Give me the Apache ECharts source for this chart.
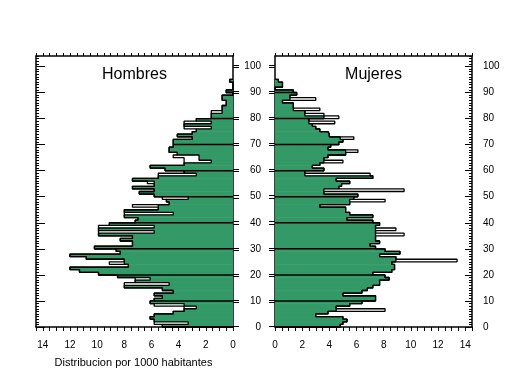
<!DOCTYPE html>
<html>
<head>
<meta charset="utf-8">
<script src="https://cdn.jsdelivr.net/npm/echarts@6/dist/echarts.min.js"></script>
<style>
  html, body { margin: 0; padding: 0; background: #fff; }
  #chart { width: 509px; height: 376px; }
</style>
</head>
<body>
<div id="chart"></div>
<script>
// per 1000 inhabitants, one value per age (0, 1, 2 ...)
// outline = black step line, fill = green area
const menOutline = [
  5.2, 5.8, 5.8, 6.1, 5.8, 4.4, 3.6, 3.6, 5.8, 6.1,
  5.8, 5.2, 5.8, 4.4, 5.2, 8.0, 8.0, 7.2, 7.2, 8.5,
  9.9, 11.3, 12.0, 7.7, 9.1, 8.0, 10.8, 12.0, 8.3, 8.6,
  10.2, 7.4, 7.4, 8.3, 7.4, 9.9, 9.9, 9.9, 9.9, 9.1,
  7.2, 7.0, 8.0, 8.0, 8.0, 5.5, 7.4, 4.7, 4.9, 5.2,
  5.8, 6.9, 5.8, 7.4, 5.8, 6.3, 7.4, 5.5, 5.5, 3.6,
  5.0, 6.1, 3.6, 3.6, 3.6, 4.4, 4.1, 4.7, 4.7, 4.4,
  4.4, 4.4, 3.0, 4.1, 3.0, 2.7, 3.6, 3.6, 3.6, 2.7,
  1.6, 1.6, 1.6, 0.8, 0.8, 0.5, 0.5, 0.8, 0.8, 0,
  0.5, 0, 0, 0, 0.25
];
const menFill = [
  5.2, 3.3, 5.8, 6.1, 5.8, 4.4, 3.6, 2.7, 3.6, 6.1,
  5.8, 5.2, 5.8, 4.4, 5.2, 8.0, 4.7, 7.2, 6.1, 8.5,
  9.9, 11.3, 12.0, 7.7, 8.0, 8.0, 10.8, 12.0, 8.3, 8.6,
  10.2, 7.4, 7.4, 8.3, 7.4, 9.9, 5.8, 9.9, 5.8, 9.1,
  7.2, 7.0, 8.0, 4.4, 8.0, 5.5, 5.5, 4.7, 4.9, 3.3,
  5.8, 6.9, 5.8, 7.4, 5.8, 5.8, 7.4, 5.5, 2.7, 3.6,
  5.0, 6.1, 3.6, 1.6, 2.5, 2.5, 4.1, 4.7, 4.7, 4.4,
  4.4, 4.4, 3.0, 4.1, 3.0, 2.7, 1.6, 3.6, 1.6, 2.7,
  1.6, 1.6, 0.8, 0.8, 0.8, 0.5, 0.5, 0.8, 0.8, 0,
  0.5, 0, 0, 0, 0.25
];
const womenOutline = [
  4.8, 5.0, 5.3, 5.0, 3.0, 3.9, 8.1, 4.5, 5.5, 6.4,
  7.4, 7.4, 5.0, 6.4, 6.8, 7.2, 7.7, 7.7, 8.4, 8.1,
  7.2, 8.6, 8.8, 8.8, 8.6, 13.4, 8.9, 7.7, 9.2, 8.1,
  7.4, 7.0, 7.7, 7.4, 7.4, 9.5, 7.4, 8.9, 7.4, 7.7,
  7.2, 5.3, 7.2, 5.5, 5.2, 5.2, 3.3, 5.5, 8.1, 5.8,
  6.1, 3.6, 9.5, 4.7, 4.9, 5.5, 4.5, 7.2, 7.0, 2.2,
  3.6, 2.75, 3.3, 5.0, 3.6, 3.9, 5.2, 6.1, 3.9, 4.1,
  4.7, 5.0, 5.8, 4.0, 3.9, 3.3, 3.0, 2.75, 4.4, 2.5,
  4.7, 3.6, 2.2, 3.3, 1.35, 1.35, 0.55, 3.0, 1.1, 1.6,
  1.35, 0, 0.55, 0.55, 0.25
];
const womenFill = [
  4.8, 5.0, 5.3, 5.0, 3.0, 3.9, 4.5, 4.5, 5.5, 6.4,
  7.4, 7.4, 5.0, 6.4, 6.8, 7.2, 7.7, 7.7, 8.4, 8.1,
  7.2, 8.6, 8.8, 8.8, 8.6, 8.9, 8.9, 7.7, 9.2, 8.1,
  7.4, 7.0, 7.7, 7.4, 7.4, 7.4, 7.4, 7.4, 7.4, 7.7,
  7.2, 5.3, 7.2, 5.5, 5.2, 5.2, 3.3, 5.5, 5.5, 5.8,
  6.1, 3.6, 3.6, 4.7, 4.9, 5.5, 4.5, 7.2, 2.2, 2.2,
  3.6, 2.75, 3.3, 3.6, 3.6, 3.9, 5.2, 5.2, 3.9, 4.1,
  4.7, 5.0, 4.8, 4.0, 3.9, 3.3, 3.0, 2.75, 2.5, 2.5,
  3.6, 2.2, 2.2, 1.35, 1.35, 1.35, 0.55, 1.1, 1.1, 1.6,
  1.35, 0, 0.55, 0.55, 0.25
];
const xLabels = [0, 2, 4, 6, 8, 10, 12, 14];
const decades = [0, 10, 20, 30, 40, 50, 60, 70, 80, 90, 100];

const green = "#339966";
const font = "Liberation Sans";
const labelStyle = { color: "#000", fontSize: 10, fontFamily: font };
const blackLine = { show: true, onZero: false, lineStyle: { color: "#000", width: 1.5 } };
const noLine = { show: false, onZero: false };
// double ticks ("=") at every decade
const doubleTicks = decades.flatMap((d) => [d - 0.4, d + 0.4]);

const chart = echarts.init(document.getElementById("chart"));

// outline of a step histogram, one step per age
const stepPoints = (vals) => {
  const pts = [[0, 0]];
  vals.forEach((v, i) => {
    pts.push([v, i]);
    pts.push([v, i + 1]);
  });
  pts.push([0, vals.length]);
  return pts;
};

const renderBars = (params, api) => {
  const v = api.value(0);
  const age = api.value(1);
  const p0 = api.coord([0, age]);
  const p1 = api.coord([v, age + 1]);
  const children = [
    {
      type: "rect",
      shape: {
        x: Math.min(p0[0], p1[0]),
        y: p1[1] - 0.3,
        width: Math.abs(p1[0] - p0[0]),
        height: p0[1] - p1[1] + 0.6,
      },
      style: { fill: green },
    },
  ];
  if (age % 10 === 0 && v > 0) {
    children.push({
      type: "line",
      shape: { x1: p0[0], y1: p0[1], x2: p1[0], y2: p0[1] },
      style: { stroke: "#000", lineWidth: 1.5 },
    });
  }
  return { type: "group", children };
};

const xAxisFor = (grid, pos, inverse) => ({
  gridIndex: grid,
  type: "value",
  min: 0,
  max: 14.5,
  interval: 0.5,
  inverse: inverse,
  position: pos,
  axisLine: blackLine,
  axisTick: { show: true, inside: false, length: pos === "bottom" ? 4 : 3, lineStyle: { color: "#000" } },
  axisLabel: {
    show: pos === "bottom",
    ...labelStyle,
    margin: 13,
    formatter: (v) => (xLabels.includes(v) ? String(v) : ""),
  },
  splitLine: { show: false },
});

const yAxisFor = (grid, pos, opts) => ({
  gridIndex: grid,
  type: "value",
  min: 0,
  max: 104,
  position: pos,
  splitLine: { show: false },
  ...opts,
});

const option = {
  animation: false,
  grid: [
    { left: 36, top: 56, width: 197, height: 271 },
    { left: 275, top: 56, width: 197, height: 271 },
  ],
  xAxis: [
    xAxisFor(0, "bottom", true),
    xAxisFor(0, "top", true),
    xAxisFor(1, "bottom", false),
    xAxisFor(1, "top", false),
  ],
  yAxis: [
    // Hombres left: long ticks at decades, short every year
    yAxisFor(0, "left", {
      interval: 10,
      axisLine: blackLine,
      axisTick: { inside: true, length: 9, customValues: decades, lineStyle: { color: "#000" } },
      axisLabel: { show: false },
    }),
    yAxisFor(0, "left", {
      interval: 1,
      axisLine: noLine,
      axisTick: { inside: true, length: 3, lineStyle: { color: "#000" } },
      axisLabel: { show: false },
    }),
    // Hombres right
    yAxisFor(0, "right", {
      interval: 10,
      axisLine: blackLine,
      axisTick: { inside: false, length: 6, customValues: doubleTicks, lineStyle: { color: "#000" } },
      axisLabel: { show: false },
    }),
    // Mujeres left
    yAxisFor(1, "left", {
      interval: 10,
      axisLine: blackLine,
      axisTick: { inside: false, length: 6, customValues: doubleTicks, lineStyle: { color: "#000" } },
      axisLabel: { ...labelStyle, margin: 14, customValues: decades },
    }),
    // Mujeres right
    yAxisFor(1, "right", {
      interval: 10,
      axisLine: blackLine,
      axisTick: { inside: true, length: 7, customValues: decades, lineStyle: { color: "#000" } },
      axisLabel: { ...labelStyle, margin: 11, customValues: decades },
    }),
    yAxisFor(1, "right", {
      interval: 1,
      axisLine: noLine,
      axisTick: { inside: true, length: 3, lineStyle: { color: "#000" } },
      axisLabel: { show: false },
    }),
  ],
  graphic: [
    {
      type: "text", x: 134.5, y: 75,
      style: { text: "Hombres", align: "center", verticalAlign: "middle", fontSize: 16, fontFamily: font, fill: "#000" },
    },
    {
      type: "text", x: 373.5, y: 75,
      style: { text: "Mujeres", align: "center", verticalAlign: "middle", fontSize: 16, fontFamily: font, fill: "#000" },
    },
    {
      type: "text", x: 133.5, y: 363,
      style: { text: "Distribucion por 1000 habitantes", align: "center", verticalAlign: "middle", fontSize: 11, fontFamily: font, fill: "#000" },
    },
  ],
  series: [
    {
      type: "custom", xAxisIndex: 0, yAxisIndex: 0, z: 2,
      renderItem: renderBars,
      data: menFill.map((v, i) => [v, i]),
    },
    {
      type: "custom", xAxisIndex: 2, yAxisIndex: 3, z: 2,
      renderItem: renderBars,
      data: womenFill.map((v, i) => [v, i]),
    },
    ...[
      [0, 0, menFill],
      [0, 0, menOutline],
      [2, 3, womenFill],
      [2, 3, womenOutline],
    ].map(([xi, yi, vals]) => ({
      type: "line", xAxisIndex: xi, yAxisIndex: yi, z: 3,
      symbol: "none", silent: true,
      lineStyle: { color: "#000", width: 1.3 },
      data: stepPoints(vals),
    })),
  ],
};

chart.setOption(option);
</script>
</body>
</html>
